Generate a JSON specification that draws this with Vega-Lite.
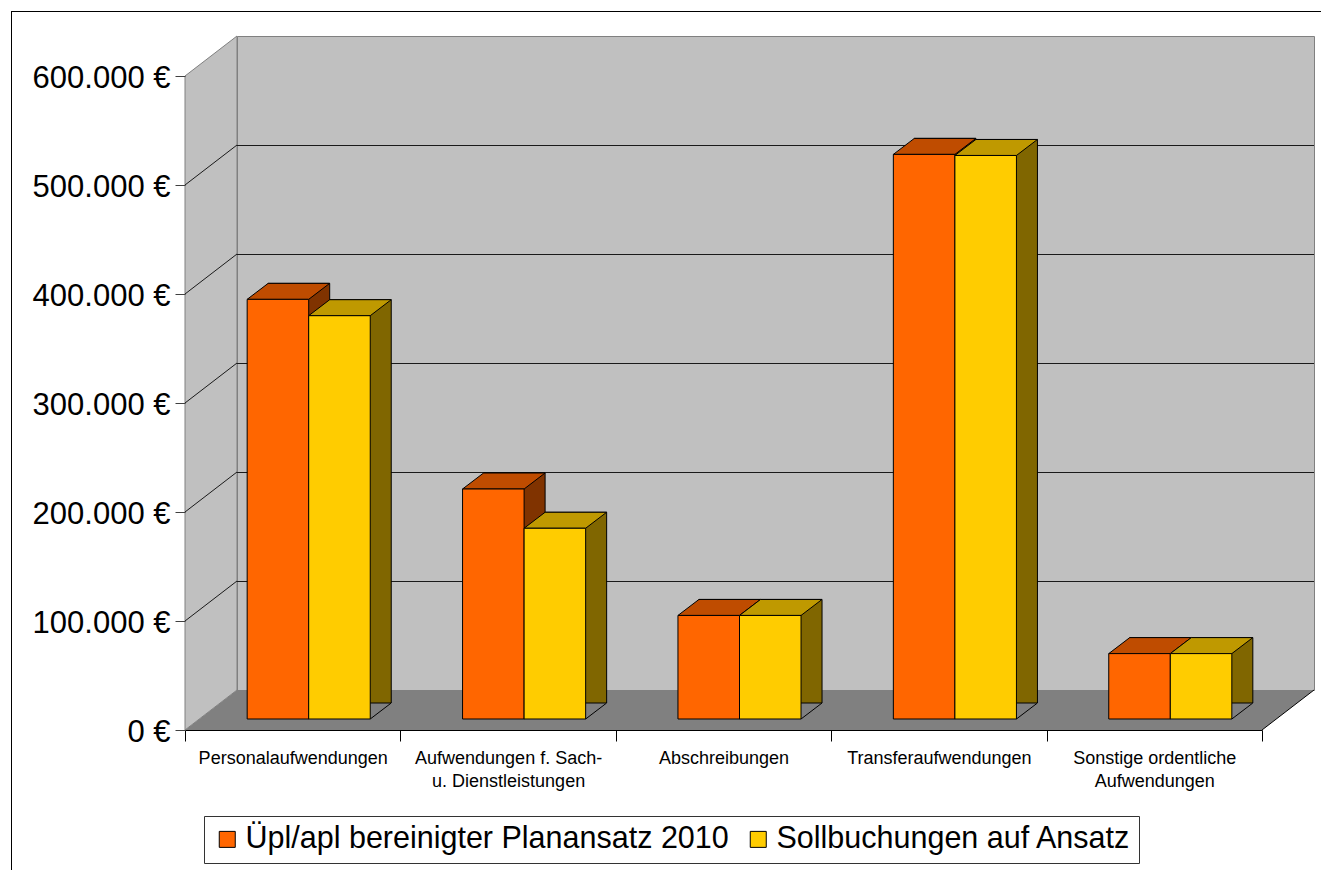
{
  "$schema": "https://vega.github.io/schema/vega-lite/v6.json",
  "width": 1077,
  "height": 654,
  "autosize": {"type": "none"},
  "padding": {"left": 237, "top": 36, "right": 7, "bottom": 180},
  "background": "white",
  "config": {
    "font": "Liberation Sans",
    "view": {"fill": "#c0c0c0", "stroke": "#808080", "strokeWidth": 1}
  },
  "data": {
    "values": [
      {"kategorie": "Personalaufwendungen", "serie": "Üpl/apl bereinigter Planansatz 2010", "wert": 385000},
      {"kategorie": "Personalaufwendungen", "serie": "Sollbuchungen auf Ansatz", "wert": 370000},
      {"kategorie": "Aufwendungen f. Sach- u. Dienstleistungen", "serie": "Üpl/apl bereinigter Planansatz 2010", "wert": 211000},
      {"kategorie": "Aufwendungen f. Sach- u. Dienstleistungen", "serie": "Sollbuchungen auf Ansatz", "wert": 175000},
      {"kategorie": "Abschreibungen", "serie": "Üpl/apl bereinigter Planansatz 2010", "wert": 95000},
      {"kategorie": "Abschreibungen", "serie": "Sollbuchungen auf Ansatz", "wert": 95000},
      {"kategorie": "Transferaufwendungen", "serie": "Üpl/apl bereinigter Planansatz 2010", "wert": 518000},
      {"kategorie": "Transferaufwendungen", "serie": "Sollbuchungen auf Ansatz", "wert": 517000},
      {"kategorie": "Sonstige ordentliche Aufwendungen", "serie": "Üpl/apl bereinigter Planansatz 2010", "wert": 60000},
      {"kategorie": "Sonstige ordentliche Aufwendungen", "serie": "Sollbuchungen auf Ansatz", "wert": 60000}
    ]
  },
  "resolve": {"scale": {"x": "independent"}},
  "layer": [
    {
      "data": {"values": [{}]},
      "layer": [
        {
          "mark": {"type": "point", "shape": "M0,0 L1077,0 L1025,40 L-52,40 Z", "size": 4, "filled": true, "fill": "#808080", "strokeWidth": 0, "opacity": 1},
          "encoding": {
            "x": {"datum": 0, "type": "quantitative", "scale": {"domain": [0, 1], "nice": false}, "axis": null},
            "y": {"datum": 0, "type": "quantitative"}
          }
        },
        {
          "mark": {"type": "rule", "color": "black", "strokeWidth": 1, "x2Offset": -52, "y2Offset": 40},
          "encoding": {
            "x": {"datum": 1, "type": "quantitative", "axis": null},
            "x2": {"datum": 1},
            "y": {"datum": 0, "type": "quantitative"},
            "y2": {"datum": 0}
          }
        },
        {
          "mark": {"type": "point", "shape": "M0,0 L0,654 L-52,694 L-52,40 Z", "size": 4, "filled": true, "fill": "#c0c0c0", "stroke": "#808080", "strokeWidth": 1, "opacity": 1},
          "encoding": {
            "x": {"datum": 0, "type": "quantitative", "axis": null},
            "y": {"datum": 600000, "type": "quantitative"}
          }
        },
        {
          "data": {"values": [{"v": 100000}, {"v": 200000}, {"v": 300000}, {"v": 400000}, {"v": 500000}]},
          "mark": {"type": "rule", "color": "#1a1a1a", "strokeWidth": 1, "yOffset": 0.5},
          "encoding": {
            "x": {"datum": 0, "type": "quantitative", "axis": null},
            "x2": {"datum": 1},
            "y": {"field": "v", "type": "quantitative", "title": null}
          }
        },
        {
          "data": {"values": [{"v": 100000}, {"v": 200000}, {"v": 300000}, {"v": 400000}, {"v": 500000}]},
          "mark": {"type": "rule", "color": "#1a1a1a", "strokeWidth": 1, "x2Offset": -52, "y2Offset": 40},
          "encoding": {
            "x": {"datum": 0, "type": "quantitative", "axis": null},
            "x2": {"datum": 0},
            "y": {"field": "v", "type": "quantitative", "title": null},
            "y2": {"field": "v"}
          }
        },
        {
          "mark": {"type": "rule", "color": "black", "strokeWidth": 1, "xOffset": -226, "x2Offset": 30, "yOffset": -24.5},
          "encoding": {
            "x": {"datum": 0, "type": "quantitative", "axis": null},
            "x2": {"datum": 1},
            "y": {"datum": 600000, "type": "quantitative"}
          }
        },
        {
          "mark": {"type": "rule", "color": "black", "strokeWidth": 1, "xOffset": -225.5, "yOffset": -25, "y2Offset": 200},
          "encoding": {
            "x": {"datum": 0, "type": "quantitative", "axis": null},
            "y": {"datum": 600000, "type": "quantitative"},
            "y2": {"datum": 0}
          }
        }
      ]
    },
    {
      "resolve": {"scale": {"xOffset": "independent"}},
      "encoding": {
        "x": {"field": "kategorie", "type": "nominal", "sort": null}
      },
      "layer": [
        {
          "mark": {"type": "bar", "stroke": "black", "strokeWidth": 1, "yOffset": 13, "y2Offset": 29},
          "encoding": {
            "x": {
              "field": "kategorie",
              "type": "nominal",
              "sort": null,
              "scale": {"paddingInner": 0, "paddingOuter": 0},
              "axis": {
                "orient": "bottom",
                "offset": 40,
                "position": -52,
                "title": null,
                "zindex": 1,
                "domainColor": "black",
                "domainWidth": 1,
                "tickBand": "extent",
                "tickSize": 11,
                "tickColor": "black",
                "labelAngle": 0,
                "labelFontSize": 18,
                "labelColor": "black",
                "labelPadding": 8,
                "labelLimit": 400,
                "labelOverlap": false,
                "labelLineHeight": 23.5,
                "labelExpr": "datum.value == 'Aufwendungen f. Sach- u. Dienstleistungen' ? ['Aufwendungen f. Sach-', 'u. Dienstleistungen'] : datum.value == 'Sonstige ordentliche Aufwendungen' ? ['Sonstige ordentliche', 'Aufwendungen'] : datum.label"
              }
            },
            "xOffset": {
              "field": "serie",
              "type": "nominal",
              "scale": {"type": "band", "domain": ["Üpl/apl bereinigter Planansatz 2010", "Sollbuchungen auf Ansatz"], "range": [-15, 200.4], "paddingInner": 0, "paddingOuter": 0.75}
            },
            "y": {
              "field": "wert",
              "type": "quantitative",
              "scale": {"domain": [0, 600000], "nice": false},
              "axis": {
                "orient": "left",
                "offset": 52,
                "position": 40,
                "title": null,
                "zindex": 1,
                "values": [0, 100000, 200000, 300000, 400000, 500000, 600000],
                "grid": false,
                "domain": false,
                "tickSize": 10,
                "tickColor": "#404040",
                "labelFontSize": 31,
                "labelColor": "black",
                "labelPadding": 5,
                "labelOffset": 2,
                "labelExpr": "replace(format(datum.value, ',.0f'), ',', '.') + ' €'"
              }
            },
            "fill": {"condition": {"test": "datum.serie === 'Sollbuchungen auf Ansatz'", "value": "#806600"}, "value": "#803300"}
          }
        },
        {
          "mark": {"type": "point", "shape": "M30.77,0 L51.77,-16 L53,-16 L53,1 L30.77,1 Z", "size": 4, "filled": true, "fill": "#808080", "strokeWidth": 0, "opacity": 1, "yOffset": 29},
          "encoding": {
            "xOffset": {
              "field": "serie",
              "type": "nominal",
              "scale": {"type": "band", "domain": ["Üpl/apl bereinigter Planansatz 2010", "Sollbuchungen auf Ansatz"], "range": [-36, 179.4], "paddingInner": 0, "paddingOuter": 0.75}
            },
            "y": {"datum": 0, "type": "quantitative"}
          }
        },
        {
          "mark": {"type": "point", "shape": "M30.77,0 L51.77,-16", "size": 4, "filled": false, "stroke": "black", "strokeWidth": 1, "opacity": 1, "yOffset": 29},
          "encoding": {
            "xOffset": {
              "field": "serie",
              "type": "nominal",
              "scale": {"type": "band", "domain": ["Üpl/apl bereinigter Planansatz 2010", "Sollbuchungen auf Ansatz"], "range": [-36, 179.4], "paddingInner": 0, "paddingOuter": 0.75}
            },
            "y": {"datum": 0, "type": "quantitative"}
          }
        },
        {
          "mark": {"type": "point", "shape": "M-30.77,0 L30.77,0 L51.77,-16 L-9.77,-16 Z", "size": 4, "filled": true, "stroke": "black", "strokeWidth": 1, "opacity": 1, "yOffset": 29},
          "encoding": {
            "xOffset": {
              "field": "serie",
              "type": "nominal",
              "scale": {"type": "band", "domain": ["Üpl/apl bereinigter Planansatz 2010", "Sollbuchungen auf Ansatz"], "range": [-36, 179.4], "paddingInner": 0, "paddingOuter": 0.75}
            },
            "y": {"field": "wert", "type": "quantitative"},
            "fill": {"condition": {"test": "datum.serie === 'Sollbuchungen auf Ansatz'", "value": "#bf9900"}, "value": "#bf4c00"}
          }
        },
        {
          "mark": {"type": "bar", "stroke": "black", "strokeWidth": 1, "yOffset": 29, "y2Offset": 29},
          "encoding": {
            "xOffset": {
              "field": "serie",
              "type": "nominal",
              "scale": {"type": "band", "domain": ["Üpl/apl bereinigter Planansatz 2010", "Sollbuchungen auf Ansatz"], "range": [-36, 179.4], "paddingInner": 0, "paddingOuter": 0.75}
            },
            "y": {"field": "wert", "type": "quantitative"},
            "color": {
              "field": "serie",
              "type": "nominal",
              "scale": {"domain": ["Üpl/apl bereinigter Planansatz 2010", "Sollbuchungen auf Ansatz"], "range": ["#ff6600", "#ffcc00"]},
              "legend": {
                "orient": "none",
                "legendX": -33,
                "legendY": 780,
                "direction": "horizontal",
                "title": null,
                "labelFontSize": 30.5,
                "labelColor": "black",
                "labelLimit": 1000,
                "symbolType": "square",
                "symbolSize": 256,
                "symbolStrokeColor": "black",
                "symbolStrokeWidth": 1,
                "strokeColor": "#333333",
                "padding": 8,
                "columnPadding": 14,
                "labelOffset": 3
              }
            }
          }
        }
      ]
    }
  ]
}
